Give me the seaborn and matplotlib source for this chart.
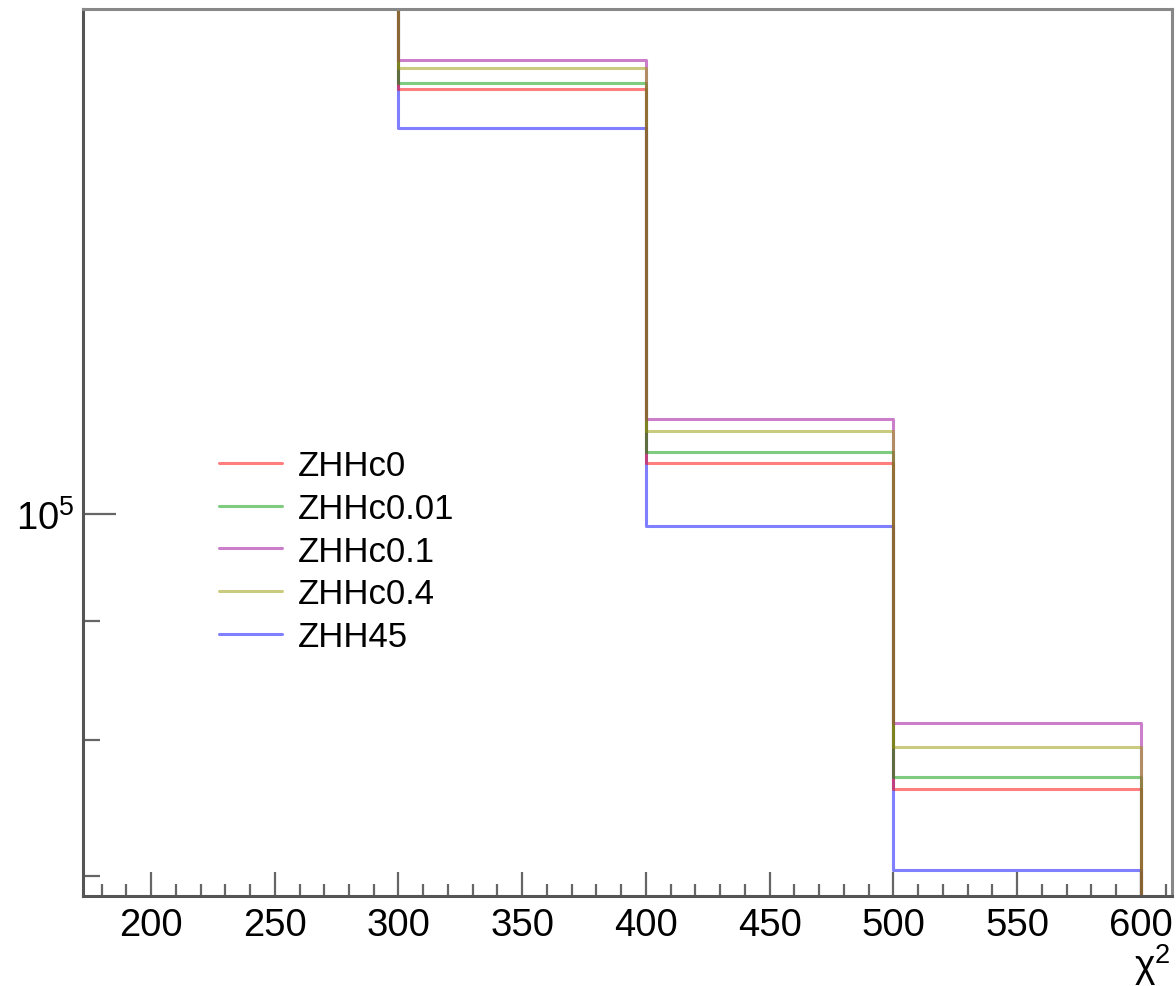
import numpy as np
import pandas as pd
import matplotlib
matplotlib.use("Agg")
import matplotlib.pyplot as plt
import seaborn as sns
from matplotlib.ticker import FixedLocator, NullFormatter, FixedFormatter

# ---- data ----
edges = [100, 200, 300, 400, 500, 600]
series = ["ZHHc0", "ZHHc0.01", "ZHHc0.1", "ZHHc0.4", "ZHH45"]
vals_ZHHc0 = [300000, 300000, 152100, 105200, 76250]
vals_ZHHc001 = [300000, 300000, 153000, 106300, 77130]
vals_ZHHc01 = [300000, 300000, 156500, 109800, 81360]
vals_ZHHc04 = [300000, 300000, 155300, 108500, 79470]
vals_ZHH45 = [300000, 300000, 146400, 98850, 70360]
floor_val = 1000
colors = ["#ff0000", "#009900", "#990099", "#999900", "#0000ff"]
draw_order = ["ZHH45", "ZHHc0", "ZHHc0.01", "ZHHc0.1", "ZHHc0.4"]

all_vals = [vals_ZHHc0, vals_ZHHc001, vals_ZHHc01, vals_ZHHc04, vals_ZHH45]
rows = []
for name, v in zip(series, all_vals):
    ys = list(v) + [floor_val]
    for x, y in zip(edges, ys):
        rows.append({"x": x, "y": y, "s": name})
df = pd.DataFrame(rows)

sns.set_style("white")
plt.rcParams['font.family'] = ['Liberation Sans', 'DejaVu Sans']
plt.rcParams['mathtext.fontset'] = 'custom'
plt.rcParams['mathtext.rm'] = 'Liberation Sans'
plt.rcParams['mathtext.it'] = 'Liberation Sans:italic'

fig = plt.figure(figsize=(11.76, 9.87), dpi=100)
ax = fig.add_axes([83/1176, 1-897/987, (1172-83)/1176, (897-10)/987])

sns.lineplot(data=df, x="x", y="y", hue="s", hue_order=draw_order,
             palette=dict(zip(series, colors)), drawstyle="steps-post",
             linewidth=2.2, alpha=0.5, ax=ax, estimator=None, sort=False)

ax.set_yscale("log")
ax.set_xlim(172.5, 612.6)
ax.set_ylim(68600, 164600)

ax.xaxis.set_major_locator(FixedLocator([200, 250, 300, 350, 400, 450, 500, 550, 600]))
ax.xaxis.set_minor_locator(FixedLocator([v for v in range(180, 611, 10) if v % 50 != 0]))
ax.yaxis.set_major_locator(FixedLocator([1e5]))
ax.yaxis.set_major_formatter(FixedFormatter([r"$\mathregular{10^{5}}$"]))
ax.yaxis.set_minor_locator(FixedLocator([7e4, 8e4, 9e4]))
ax.yaxis.set_minor_formatter(NullFormatter())

ax.tick_params(axis="both", which="both", direction="in", color="#666666", width=1.6,
               bottom=True, left=True, top=False, right=False, labelcolor="black")
ax.tick_params(axis="x", which="major", length=17.5, labelsize=27.5, pad=8)
ax.tick_params(axis="x", which="minor", length=9)
ax.tick_params(axis="y", which="major", length=24, labelsize=27.5, pad=6)
ax.tick_params(axis="y", which="minor", length=12.5)

for side, sp in ax.spines.items():
    sp.set_visible(True)
    sp.set_color("#555555")
    sp.set_linewidth(2.2)
ax.spines["top"].set_color("#888888")
ax.spines["right"].set_color("#888888")

ax.set_xlabel("")
ax.set_ylabel("")
handles, labels = ax.get_legend_handles_labels()
hmap = dict(zip(labels, handles))
leg = ax.legend([hmap[s] for s in series], series, frameon=False, fontsize=25,
                loc="upper left", bbox_to_anchor=(0.096, 0.539), handlelength=1.83,
                handletextpad=0.44, labelspacing=0.28, borderaxespad=0.5)
for h in leg.get_lines():
    h.set_linewidth(2.2)
    h.set_alpha(0.5)
for t in leg.get_texts():
    t.set_color("black")

fig.text(1171/1176, (987 - 978) / 987, r"χ$^{2}$", ha="right", va="baseline",
         fontsize=28, color="black")

fig.savefig("out.png", dpi=100)
